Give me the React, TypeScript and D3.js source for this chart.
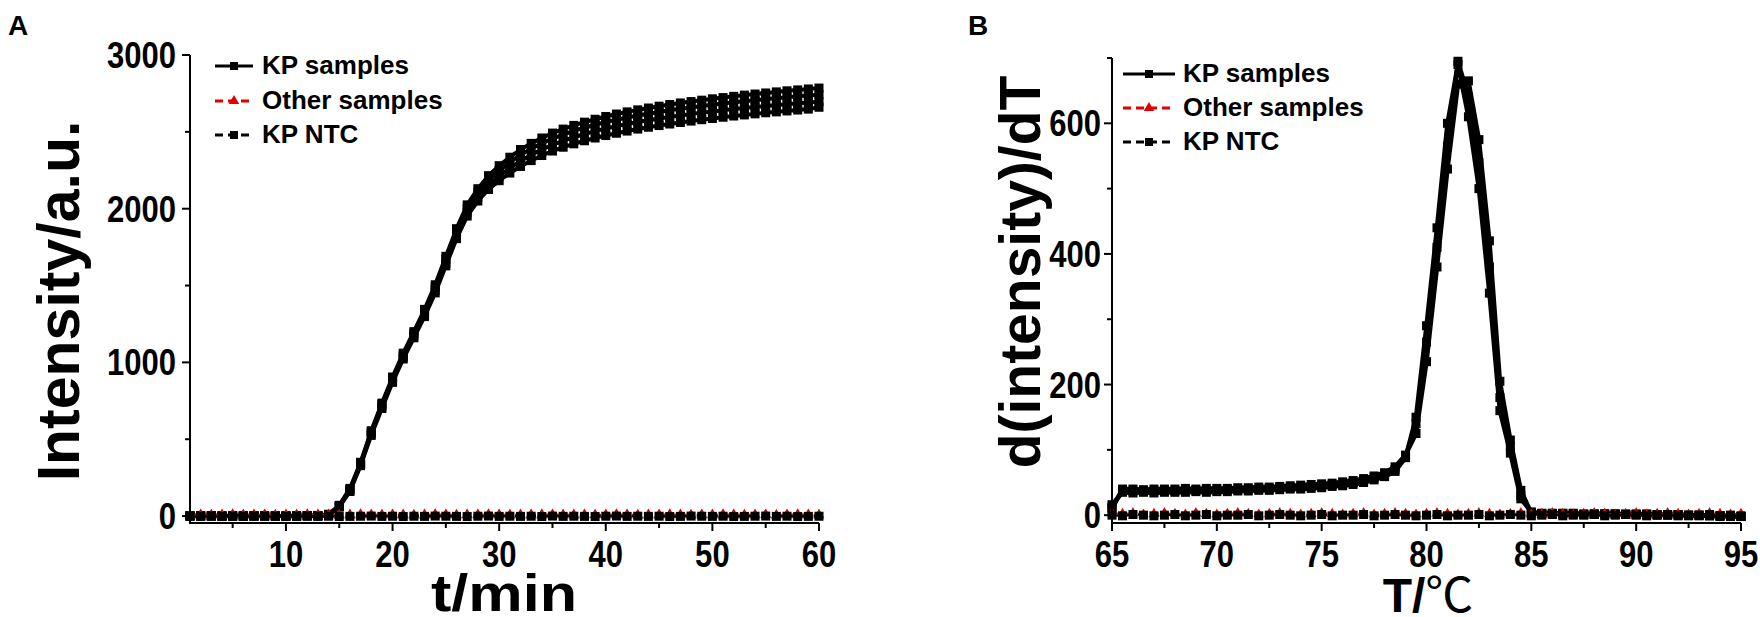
import { useEffect } from "react";
import * as d3 from "d3";

const W = 1760;
const H = 617;
const FONT = "'Liberation Sans', Arial, Helvetica, sans-serif";

// ---- panel A: amplification curves (t/min vs intensity) ----
const timeMin = [
  1, 2, 3, 4, 5, 6, 7, 8, 9, 10, 11, 12, 13, 14, 15, 16, 17, 18, 19, 20,
  21, 22, 23, 24, 25, 26, 27, 28, 29, 30, 31, 32, 33, 34, 35, 36, 37, 38, 39, 40,
  41, 42, 43, 44, 45, 46, 47, 48, 49, 50, 51, 52, 53, 54, 55, 56, 57, 58, 59, 60,
];
const kpA1 = [
  2, 1, 3, 0, 2, 1, -1, 2, 0, 1, 3, 2, 4,
  12, 70, 180, 350, 555, 735, 905, 1060, 1200, 1345,
  1505, 1690, 1870, 2025, 2130, 2215, 2280, 2335, 2385, 2425,
  2460, 2492, 2518, 2542, 2563, 2582, 2600, 2616, 2630, 2643,
  2655, 2667, 2678, 2688, 2697, 2706, 2715, 2723, 2731, 2739,
  2746, 2753, 2760, 2767, 2773, 2779, 2785,
];
const kpA2 = [
  1, 0, 2, -1, 1, 3, 0, 1, 2, -1, 1, 3, 2,
  10, 66, 172, 342, 545, 725, 895, 1048, 1188, 1330,
  1490, 1670, 1850, 2002, 2105, 2185, 2248, 2302, 2350, 2390,
  2425, 2456, 2482, 2506, 2527, 2546, 2563, 2579, 2593, 2606,
  2618, 2629, 2640, 2650, 2659, 2668, 2676, 2684, 2692, 2699,
  2706, 2713, 2719, 2725, 2731, 2737, 2742,
];
const kpA3 = [
  0, 2, 1, 1, -1, 0, 2, 1, -1, 2, 0, 1, 3,
  8, 62, 165, 335, 535, 712, 882, 1035, 1172, 1312,
  1468, 1645, 1825, 1975, 2075, 2152, 2212, 2265, 2310, 2350,
  2385, 2415, 2441, 2465, 2486, 2505, 2522, 2537, 2551, 2564,
  2576, 2587, 2597, 2607, 2616, 2625, 2633, 2641, 2648, 2655,
  2662, 2668, 2674, 2680, 2686, 2691, 2696,
];
const kpA4 = [
  3, 1, 0, 2, 1, -2, 1, 0, 2, 1, -1, 2, 1,
  6, 58, 160, 328, 525, 700, 870, 1022, 1160, 1298,
  1452, 1628, 1805, 1952, 2050, 2125, 2182, 2232, 2275, 2313,
  2346, 2375, 2400, 2422, 2442, 2460, 2476, 2491, 2505, 2518,
  2530, 2541, 2551, 2561, 2570, 2579, 2587, 2595, 2603, 2610,
  2617, 2624, 2630, 2636, 2642, 2648, 2660,
];
const otherA1 = [
  8, 10, 7, 9, 11, 8, 10, 9, 7, 10,
  8, 11, 9, 10, 8, 9, 11, 10, 8, 9,
  10, 7, 9, 11, 10, 8, 9, 10, 11, 9,
  8, 10, 9, 11, 10, 8, 9, 10, 7, 9,
  11, 10, 8, 9, 10, 11, 9, 8, 10, 9,
  11, 10, 8, 9, 10, 7, 9, 11, 10, 8,
];
const otherA2 = [
  5, 3, 6, 4, 5, 7, 4, 6, 5, 3,
  6, 4, 5, 7, 3, 5, 6, 4, 5, 6,
  4, 5, 3, 6, 5, 4, 7, 5, 4, 6,
  5, 3, 6, 4, 5, 6, 4, 5, 7, 4,
  6, 5, 3, 5, 4, 6, 5, 4, 6, 5,
  3, 6, 4, 5, 7, 4, 5, 6, 4, 5,
];
const ntcA = [
  -2, -1, 0, -3, -1, -2, 0, -1, -2, -3,
  -1, 0, -2, -1, -3, -2, -1, 0, -2, -1,
  -3, -1, -2, 0, -1, -2, -3, -1, 0, -2,
  -1, -2, -1, -3, 0, -2, -1, -2, -3, -1,
  0, -2, -1, -2, -1, -3, -2, 0, -1, -2,
  -1, -3, -2, -1, 0, -2, -1, -3, -2, -1,
];

// ---- panel B: melting curves (T vs d(intensity)/dT) ----
const tempC = [
  65, 65.5, 66, 66.5, 67, 67.5, 68, 68.5, 69, 69.5,
  70, 70.5, 71, 71.5, 72, 72.5, 73, 73.5, 74, 74.5,
  75, 75.5, 76, 76.5, 77, 77.5, 78, 78.5, 79, 79.5,
  80, 80.5, 81, 81.5, 82, 82.5, 83, 83.5, 84, 84.5,
  85, 85.5, 86, 86.5, 87, 87.5, 88, 88.5, 89, 89.5,
  90, 90.5, 91, 91.5, 92, 92.5, 93, 93.5, 94, 94.5, 95,
];
const kpB1 = [
  12, 38, 37, 37, 37, 37, 37, 38, 38, 38,
  38, 39, 39, 40, 40, 41, 42, 42, 43, 44,
  45, 47, 48, 50, 53, 57, 62, 70, 90, 140,
  265, 410, 565, 695, 640, 540, 380, 180, 105, 30,
  4, 2, 2, 3, 2, 1, 2, 2, 1, 2,
  1, 2, 1, 0, 1, 0, -1, 0, -1, -2, -2,
];
const kpB2 = [
  16, 35, 34, 35, 34, 35, 35, 35, 36, 35,
  36, 36, 37, 37, 38, 38, 39, 40, 40, 41,
  42, 44, 45, 47, 50, 54, 59, 67, 88, 150,
  290, 440, 600, 690, 610, 500, 340, 160, 95, 25,
  5, 3, 2, 2, 3, 2, 1, 2, 2, 1,
  2, 1, 1, 0, 1, 0, 0, -1, -1, -1, -2,
];
const kpB3 = [
  10, 40, 40, 39, 40, 40, 40, 41, 40, 41,
  41, 41, 42, 42, 43, 43, 44, 45, 46, 47,
  48, 49, 51, 53, 56, 60, 65, 74, 92, 125,
  235, 380, 530, 660, 665, 575, 420, 205, 115, 38,
  3, 2, 3, 2, 2, 1, 2, 1, 2, 1,
  1, 1, 0, 1, 0, -1, 0, -1, -2, -1, -2,
];
const otherB = [
  3, 2, 3, 1, 2, 3, 2, 1, 3, 2,
  1, 2, 3, 2, 1, 2, 3, 2, 1, 2,
  3, 2, 1, 2, 3, 1, 2, 3, 2, 1,
  2, 3, 2, 1, 2, 3, 2, 1, 2, 3,
  1, 2, 3, 2, 1, 2, 3, 2, 1, 2,
  3, 1, 2, 3, 2, 1, 2, 3, 2, 1, 2,
];
const ntcB = [
  0, -1, 1, 0, -1, 0, 1, -1, 0, 1,
  -1, 0, 0, 1, -1, 0, 1, 0, -1, 0,
  1, -1, 0, 0, 1, -1, 0, 1, 0, -1,
  0, 1, -1, 0, 0, 1, -1, 0, 1, 0,
  -1, 0, 1, -1, 0, 0, 1, -1, 0, 1,
  0, -1, 0, 1, -1, 0, 0, 1, -1, 0, -1,
];

// ticks
const tickAx = [10, 20, 30, 40, 50, 60];
const minorAx = [5, 15, 25, 35, 45, 55];
const tickAy = [0, 1000, 2000, 3000];
const minorAy = [500, 1500, 2500];
const tickBx = [65, 70, 75, 80, 85, 90, 95];
const minorBx = [67.5, 72.5, 77.5, 82.5, 87.5, 92.5];
const tickBy = [0, 200, 400, 600];
const minorBy = [100, 300, 500, 700];
const legendLabels = ["KP samples", "Other samples", "KP NTC"];

const RED = "#e00000";
const NAVY = "#1c2a8a";

type Lin = d3.ScaleLinear<number, number>;
type Series = { ys: number[]; color: string; dash?: string; marker: "square" | "triangle"; w: number };

const triPath = d3.symbol(d3.symbolTriangle, 48)()!;

function Marks({ xs, s, x, y }: { xs: number[]; s: Series; x: Lin; y: Lin }) {
  const line = d3.line<number>().x((_, i) => x(xs[i])).y((d) => y(d));
  return (
    <g>
      <path d={line(s.ys)!} fill="none" stroke={s.color} strokeWidth={s.w}
        strokeDasharray={s.dash} strokeLinejoin="round" />
      {s.ys.map((v, i) =>
        s.marker === "square" ? (
          <rect key={i} x={x(xs[i]) - 4.5} y={y(v) - 4.5} width={9} height={9} fill={s.color} />
        ) : (
          <path key={i} d={triPath} transform={`translate(${x(xs[i])},${y(v)})`} fill={s.color} />
        )
      )}
    </g>
  );
}

// condensed bold tick text (narrow Arial look)
function TickText({ x, y, anchor, size, children }: {
  x: number; y: number; anchor: string; size: number; children: any;
}) {
  return (
    <text transform={`translate(${x},${y}) scale(0.84,1)`} textAnchor={anchor} fontSize={size}
      stroke="none" fill="#000">{children}</text>
  );
}

function Axes({ x, y, xt, xm, yt, ym, gap }: {
  x: Lin; y: Lin; xt: number[]; xm: number[]; yt: number[]; ym: number[]; gap: number;
}) {
  const [x0, x1] = x.range();
  const [yb, ytop] = y.range();
  return (
    <g stroke="#000" strokeWidth={2} fontFamily={FONT} fontWeight="bold">
      <line x1={x0} x2={x1} y1={yb} y2={yb} />
      <line x1={x0} x2={x0} y1={yb + 1} y2={ytop} />
      {xt.map((t) => <line key={"xt" + t} x1={x(t)} x2={x(t)} y1={yb} y2={yb + 8} />)}
      {xm.map((t) => <line key={"xm" + t} x1={x(t)} x2={x(t)} y1={yb} y2={yb + 5} />)}
      {yt.map((t) => <line key={"yt" + t} x1={x0 - 8} x2={x0} y1={y(t)} y2={y(t)} />)}
      {ym.map((t) => <line key={"ym" + t} x1={x0 - 5} x2={x0} y1={y(t)} y2={y(t)} />)}
      {xt.map((t) => (
        <TickText key={"xl" + t} x={x(t)} y={567} anchor="middle" size={37}>{t}</TickText>
      ))}
      {yt.map((t) => (
        <TickText key={"yl" + t} x={x0 - gap} y={y(t) + 13} anchor="end" size={37}>{t}</TickText>
      ))}
    </g>
  );
}

function Legend({ x0, len, tx, rows }: { x0: number; len: number; tx: number; rows: number[] }) {
  const mid = x0 + len / 2;
  const specs = [
    { color: "#000", dash: undefined, marker: "square" },
    { color: RED, dash: "8 5", marker: "triangle" },
    { color: "#000", dash: "8 5", marker: "square" },
  ];
  return (
    <g fontFamily={FONT} fontWeight="bold" fontSize={26}>
      {rows.map((by, i) => {
        const ly = by - 8;
        const sp = specs[i];
        return (
          <g key={i}>
            <line x1={x0} x2={x0 + len} y1={ly} y2={ly} stroke={sp.color} strokeWidth={3}
              strokeDasharray={sp.dash} />
            {sp.marker === "square" ? (
              <rect x={mid - 4} y={ly - 4} width={8} height={8} fill={sp.color} />
            ) : (
              <path d={triPath} transform={`translate(${mid},${ly})`} fill={sp.color} />
            )}
            <text x={tx} y={by} fill="#000">{legendLabels[i]}</text>
          </g>
        );
      })}
    </g>
  );
}

export default function App() {
  useEffect(() => {
    document.body.style.margin = "0";
  }, []);

  const xA = d3.scaleLinear().domain([1, 60]).range([190, 819]);
  const yA = d3.scaleLinear().domain([-45, 3000]).range([523, 55]);
  const xB = d3.scaleLinear().domain([65, 95]).range([1112, 1741]);
  const yB = d3.scaleLinear().domain([-12, 700]).range([523, 58]);

  const seriesA: Series[] = [
    { ys: kpA1, color: "#000", marker: "square", w: 4 },
    { ys: kpA2, color: "#000", marker: "square", w: 4 },
    { ys: kpA3, color: "#000", marker: "square", w: 4 },
    { ys: kpA4, color: "#000", marker: "square", w: 4 },
    { ys: otherA2, color: NAVY, dash: "8 5", marker: "triangle", w: 2 },
    { ys: otherA1, color: RED, dash: "8 5", marker: "triangle", w: 2 },
    { ys: ntcA, color: "#000", dash: "8 5", marker: "square", w: 2 },
  ];
  const seriesB: Series[] = [
    { ys: kpB1, color: "#000", marker: "square", w: 4.5 },
    { ys: kpB2, color: "#000", marker: "square", w: 4.5 },
    { ys: kpB3, color: "#000", marker: "square", w: 4.5 },
    { ys: otherB, color: RED, dash: "8 5", marker: "triangle", w: 2 },
    { ys: ntcB, color: "#000", dash: "8 5", marker: "square", w: 2 },
  ];

  return (
    <svg width={W} height={H} viewBox={`0 0 ${W} ${H}`} style={{ display: "block", background: "#fff" }}>
      {/* panel letters */}
      <text x={8} y={35} fontFamily={FONT} fontWeight="bold" fontSize={28}>A</text>
      <text x={968} y={35} fontFamily={FONT} fontWeight="bold" fontSize={28}>B</text>

      {/* panel A */}
      {seriesA.map((s, i) => <Marks key={i} xs={timeMin} s={s} x={xA} y={yA} />)}
      <Axes x={xA} y={yA} xt={tickAx} xm={minorAx} yt={tickAy} ym={minorAy} gap={14} />
      <Legend x0={215} len={38} tx={262} rows={[74, 109, 143]} />
      <text transform="translate(79,301) rotate(-90)" textAnchor="middle" fontFamily={FONT}
        fontWeight="bold" fontSize={59}>Intensity/a.u.</text>
      <text x={504} y={611} textAnchor="middle" fontFamily={FONT} fontWeight="bold" fontSize={52}
        textLength={146} lengthAdjust="spacingAndGlyphs">t/min</text>

      {/* panel B */}
      {seriesB.map((s, i) => <Marks key={i} xs={tempC} s={s} x={xB} y={yB} />)}
      <Axes x={xB} y={yB} xt={tickBx} xm={minorBx} yt={tickBy} ym={minorBy} gap={11} />
      <Legend x0={1123} len={52} tx={1183} rows={[82, 116, 150]} />
      <text transform="translate(1040,272) rotate(-90)" textAnchor="middle" fontFamily={FONT}
        fontWeight="bold" fontSize={57}>d(intensity)/dT</text>
      <text x={1428} y={612} textAnchor="middle" fontSize={48}>
        <tspan fontFamily={FONT} fontWeight="bold">T/</tspan>
        <tspan fontFamily="'Noto Sans CJK SC', 'DejaVu Sans', sans-serif" fontWeight="normal">℃</tspan>
      </text>
    </svg>
  );
}
